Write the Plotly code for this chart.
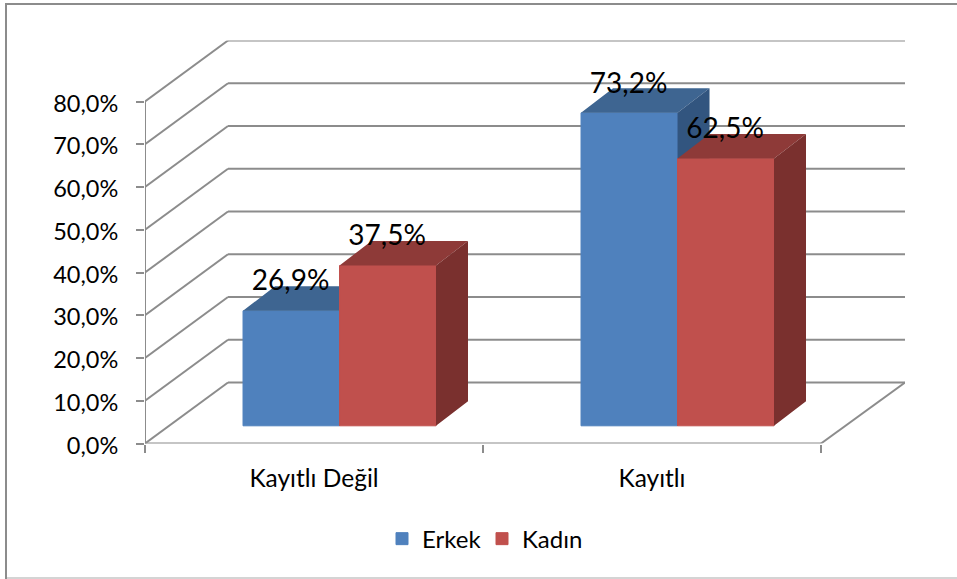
import plotly.graph_objects as go

categories = ['Kayıtlı Değil', 'Kayıtlı']
erkek = [26.9, 73.2]
kadin = [37.5, 62.5]
y_ticks = [0, 10, 20, 30, 40, 50, 60, 70, 80]
y_labels = ['0,0%', '10,0%', '20,0%', '30,0%', '40,0%', '50,0%', '60,0%', '70,0%', '80,0%']

# oblique projection of the Excel 3D chart, in axis units
WALL_DX = 83 / 338
WALL_DY = 61 / 4.275
BAR_DX = 32 / 338
BAR_DY = 24.5 / 4.275
BAR_BASE = 17.7 / 4.275
BAR_LEFT = 0.29
BAR_W = 0.2855
X_MAX = 760 / 338
Y_MAX = 403 / 4.275

GREY = '#8C8C8C'
FONT = 'Lato'


def add_series(fig, name, values, offset, front, top, side, xaxis, yaxis):
    lefts = [i + BAR_LEFT + offset for i in range(len(values))]
    fig.add_trace(go.Bar(
        x=[l + BAR_W / 2 for l in lefts], y=values, base=BAR_BASE, width=BAR_W,
        name=name, marker=dict(color=front, line=dict(color=front, width=1)),
        xaxis=xaxis, yaxis=yaxis
    ))
    # top and side faces of each box
    top_x, top_y, side_x, side_y = [], [], [], []
    for l, v in zip(lefts, values):
        h = BAR_BASE + v
        r = l + BAR_W
        top_x += [l, r, r + BAR_DX, l + BAR_DX, l, None]
        top_y += [h, h, h + BAR_DY, h + BAR_DY, h, None]
        side_x += [r, r + BAR_DX, r + BAR_DX, r, r, None]
        side_y += [h, h + BAR_DY, BAR_BASE + BAR_DY, BAR_BASE, h, None]
    for xs, ys, color in [(top_x, top_y, top), (side_x, side_y, side)]:
        fig.add_trace(go.Scatter(
            x=xs, y=ys, mode='lines', fill='toself', fillcolor=color,
            line=dict(width=0), showlegend=False, hoverinfo='skip',
            xaxis=xaxis, yaxis=yaxis
        ))
    return lefts


fig = go.Figure()

# red goes on the overlaying axes so it paints over the blue boxes
left_e = add_series(fig, 'Erkek', erkek, 0, '#4F81BD', '#3E6591', '#32557F', 'x', 'y')
left_k = add_series(fig, 'Kadın', kadin, BAR_W, '#C0504D', '#8E3A38', '#7A302E', 'x2', 'y2')

# data labels
fig.add_trace(go.Scatter(
    x=[l + BAR_W / 2 - 0.002 for l in left_e + left_k],
    y=[BAR_BASE + v + 6.4 for v in erkek + kadin],
    text=[f'{v:.1f}%'.replace('.', ',') for v in erkek + kadin],
    mode='text', textposition='middle center',
    textfont=dict(family=FONT, size=28, color='black'),
    showlegend=False, hoverinfo='skip', xaxis='x2', yaxis='y2'
))

# gridlines on the side and back walls
line = dict(color=GREY, width=2)
for t in y_ticks:
    fig.add_shape(type='line', x0=0, y0=t, x1=WALL_DX, y1=t + WALL_DY, line=line, layer='below')
    fig.add_shape(type='line', x0=WALL_DX, y0=t + WALL_DY, x1=X_MAX, y1=t + WALL_DY, line=line, layer='below')

# floor edge and the front axis lines
fig.add_shape(type='line', x0=2, y0=0, x1=X_MAX, y1=WALL_DY, line=line, layer='below')
fig.add_shape(type='line', x0=0, y0=0, x1=2, y1=0, line=line, layer='below')
fig.add_shape(type='line', x0=0, y0=0, x1=0, y1=80, line=line, layer='below')

# outer frame of the chart object, no right edge in the source
fig.add_shape(type='line', xref='paper', yref='paper', x0=6 / 957, x1=6 / 957,
              y0=0, y1=575 / 579, line=dict(color=GREY, width=2), layer='below')
fig.add_shape(type='line', xref='paper', yref='paper', x0=5 / 957, x1=1,
              y0=575 / 579, y1=575 / 579, line=dict(color=GREY, width=2), layer='below')
fig.add_shape(type='line', xref='paper', yref='paper', x0=7 / 957, x1=1,
              y0=1 / 579, y1=1 / 579, line=dict(color='#D4D4D4', width=2), layer='below')

x_dom = [145 / 957, 905 / 957]
y_dom = [(579 - 443.5) / 579, (579 - 40.5) / 579]

fig.update_layout(
    width=957, height=579,
    margin=dict(l=0, r=0, t=0, b=0, autoexpand=False),
    paper_bgcolor='white', plot_bgcolor='white',
    separators=',.',
    barmode='overlay',
    font=dict(family=FONT, color='black'),
    showlegend=True,
    legend=dict(
        orientation='h', x=382 / 957, xanchor='left', y=0.069, yanchor='middle',
        font=dict(family=FONT, size=24), traceorder='normal',
        entrywidth=55, entrywidthmode='pixels'
    ),
    xaxis=dict(
        domain=x_dom, range=[0, X_MAX], showgrid=False, zeroline=False, automargin=False,
        tickmode='array', tickvals=[0.5, 1.5], ticktext=categories,
        ticks='', tickfont=dict(family=FONT, size=24.5), ticklabelstandoff=18,
        minor=dict(tickmode='array', tickvals=[0, 1, 2], ticks='outside', ticklen=8,
                   tickcolor=GREY, tickwidth=2, showgrid=False)
    ),
    yaxis=dict(
        domain=y_dom, range=[0, Y_MAX], showgrid=False, zeroline=False, automargin=False,
        tickmode='array', tickvals=y_ticks, ticktext=y_labels,
        ticks='outside', ticklen=8, tickcolor=GREY, tickwidth=2,
        tickfont=dict(family=FONT, size=23.5), ticklabelstandoff=13, ticklabelshift=2
    ),
    xaxis2=dict(domain=x_dom, range=[0, X_MAX], overlaying='x', anchor='y2', visible=False),
    yaxis2=dict(domain=y_dom, range=[0, Y_MAX], overlaying='y', anchor='x2', visible=False)
)

fig.write_html("out.html", config={'displayModeBar': False},
               post_script="document.body.style.margin='0'")
